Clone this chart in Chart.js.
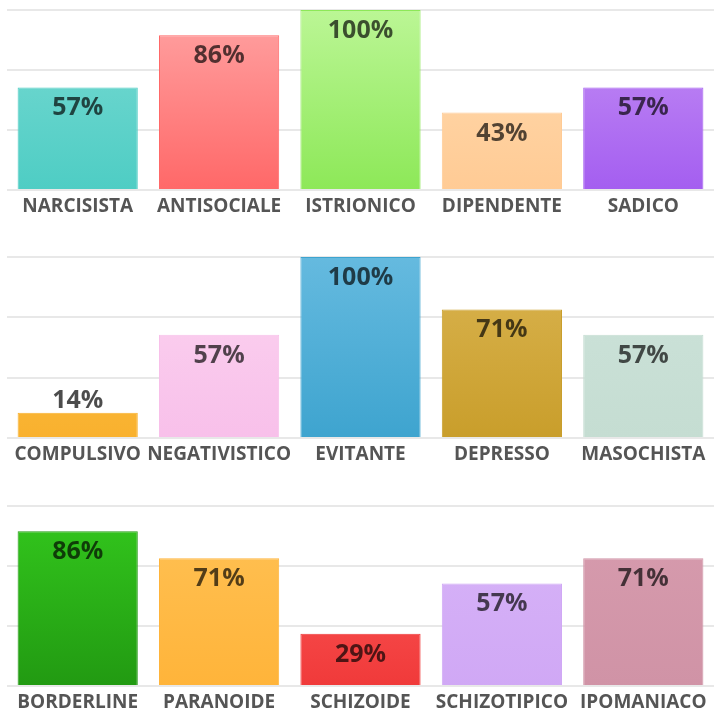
<!DOCTYPE html>
<html>
<head>
<meta charset="utf-8">
<script src="https://cdn.jsdelivr.net/npm/chart.js@4/dist/chart.umd.min.js"></script>
<style>
  html, body { margin: 0; padding: 0; background: #ffffff; width: 720px; height: 722px; overflow: hidden; }
  canvas { position: absolute; left: 0; }
</style>
</head>
<body>
<canvas id="c1" width="720" height="222" style="top:0px"></canvas>
<canvas id="c2" width="720" height="223" style="top:247px"></canvas>
<canvas id="c3" width="720" height="222" style="top:496px"></canvas>
<script>
// ---- data ----
const categories1 = ['NARCISISTA', 'ANTISOCIALE', 'ISTRIONICO', 'DIPENDENTE', 'SADICO'];
const values1 = [57, 86, 100, 43, 57];
const categories2 = ['COMPULSIVO', 'NEGATIVISTICO', 'EVITANTE', 'DEPRESSO', 'MASOCHISTA'];
const values2 = [14, 57, 100, 71, 57];
const categories3 = ['BORDERLINE', 'PARANOIDE', 'SCHIZOIDE', 'SCHIZOTIPICO', 'IPOMANIACO'];
const values3 = [86, 71, 29, 57, 71];
const gridValues = [0, 100 / 3, 200 / 3, 100];

// ---- colours (top, bottom) ----
const colors1 = [['#7adad3', '#4ecdc4'], ['#ffa3a3', '#ff6868'], ['#bbf695', '#8de858'], ['#ffdbb0', '#ffcb95'], ['#c692f5', '#a45ef0']];
const colors2 = [['#fcc24e', '#f9b12e'], ['#fcd4f0', '#f8c0ea'], ['#65badf', '#3ea4cf'], ['#dab451', '#c99e2b'], ['#cde3da', '#c5ddd2']];
const colors3 = [['#33c81d', '#229a12'], ['#ffc256', '#ffb43a'], ['#ff5e5e', '#f03a3a'], ['#d8b5f8', '#d0a8f5'], ['#d79cae', '#d093a6']];

const FONT = "'Open Sans', 'Noto Sans', sans-serif";

const valueLabels = {
  id: 'valueLabels',
  afterDatasetsDraw(chart) {
    const ctx = chart.ctx;
    const meta = chart.getDatasetMeta(0);
    const data = chart.data.datasets[0].data;
    ctx.save();
    ctx.font = 'bold 25px ' + FONT;
    ctx.textAlign = 'center';
    ctx.textBaseline = 'alphabetic';
    meta.data.forEach((bar, i) => {
      const h = bar.base - bar.y;
      let yb;
      if (h >= 40) {
        ctx.fillStyle = 'rgba(0,0,0,0.68)';
        yb = bar.y + 28;
      } else {
        ctx.fillStyle = 'rgba(0,0,0,0.7)';
        yb = bar.y - 5;
      }
      ctx.fillText(data[i] + '%', bar.x, yb);
    });
    ctx.restore();
  }
};

function makeChart(id, labels, values, colors) {
  const canvas = document.getElementById(id);
  const ctx = canvas.getContext('2d');
  return new Chart(ctx, {
    type: 'bar',
    data: {
      labels: labels,
      datasets: [{
        data: values,
        backgroundColor: (c) => {
          const area = c.chart.chartArea;
          const col = colors[c.dataIndex];
          if (!area) return col[1];
          const g = c.chart.ctx.createLinearGradient(0, area.top, 0, area.bottom);
          g.addColorStop(0, col[0]);
          g.addColorStop(1, col[1]);
          return g;
        },
        borderColor: (c) => colors[c.dataIndex][1],
        borderWidth: 1,
        borderSkipped: 'bottom',
        categoryPercentage: 1,
        barPercentage: 0.85
      }]
    },
    options: {
      responsive: false,
      animation: false,
      devicePixelRatio: 1,
      layout: { padding: { top: 10, left: 7, right: 6, bottom: 0 } },
      plugins: { legend: { display: false }, tooltip: { enabled: false } },
      scales: {
        x: {
          grid: { display: false, drawTicks: false },
          border: { display: false },
          ticks: {
            color: '#555555',
            font: { family: FONT, size: 19, weight: 'bold' },
            padding: 5,
            maxRotation: 0,
            autoSkip: false
          },
          afterFit: (s) => { s.height = 32; }
        },
        y: {
          min: 0,
          max: 100,
          afterBuildTicks: (s) => { s.ticks = gridValues.map(v => ({ value: v })); },
          afterFit: (s) => { s.width = 0; },
          grid: { color: '#e8e8e8', lineWidth: 2, drawTicks: false },
          border: { display: false },
          ticks: { display: false }
        }
      }
    },
    plugins: [valueLabels]
  });
}

makeChart('c1', categories1, values1, colors1);
makeChart('c2', categories2, values2, colors2);
makeChart('c3', categories3, values3, colors3);
</script>
</body>
</html>
